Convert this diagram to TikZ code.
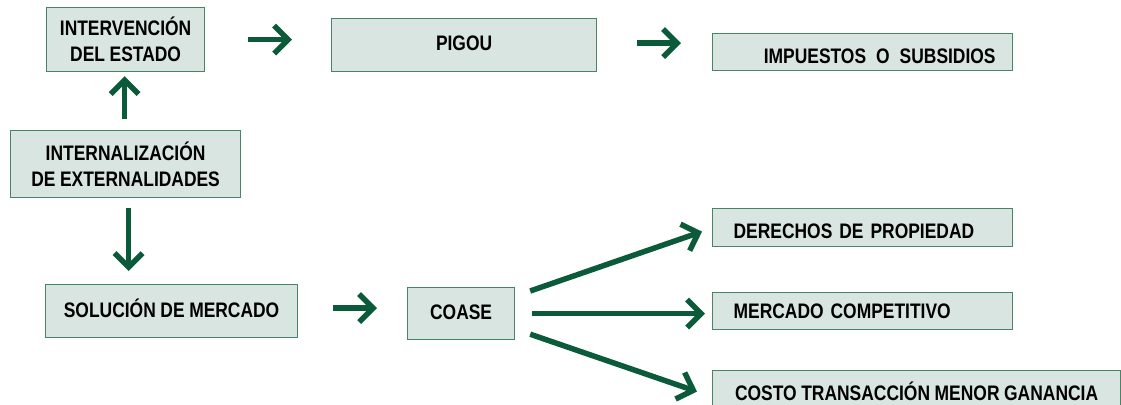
\documentclass[tikz,border=0pt]{standalone}
\usepackage{fontspec}
\setmainfont{Liberation Sans}[FakeStretch=0.83]
\usetikzlibrary{arrows.meta,calc}
\definecolor{arrgreen}{HTML}{0B5A3A}
\definecolor{boxfill}{HTML}{D9E5E0}
\definecolor{boxline}{HTML}{4A8466}
\newcommand\myboxfont{\fontsize{21}{26}\selectfont\bfseries\spaceskip=4.6pt\relax}
\tikzset{
  box/.style={draw=boxline, line width=1.2pt, fill=boxfill, anchor=north west,
    inner sep=0pt, font=\myboxfont, text=black},
  lbox/.style={box, align=left, inner xsep=21pt},
  lowtext/.style={text height=22pt, text depth=0pt},
  hightext/.style={text height=15pt, text depth=4pt},
  arr/.style={draw=arrgreen, line width=5.5pt,
    -{Straight Barb[length=14pt,width=28pt]}},
}
\begin{document}
\begin{tikzpicture}[x=1pt,y=-1pt]
\useasboundingbox (0,0) rectangle (1121,404);
% boxes
\node[box, minimum width=158pt, minimum height=64pt, align=center] (intv) at (46,7)
  {INTERVENCIÓN\\DEL ESTADO};
\node[box, minimum width=230pt, minimum height=67pt, align=center] (inte) at (10,130)
  {INTERNALIZACIÓN\\DE EXTERNALIDADES};
\node[box, hightext, minimum width=265pt, minimum height=53pt] (pig) at (331,18) {PIGOU};
\node[box, lowtext, align=right, inner xsep=17pt, text width=266pt, minimum height=37pt] (imp) at (712,33)
  {IMPUESTOS\hspace{3pt} O\hspace{3pt} SUBSIDIOS};
\node[box, text height=15pt, text depth=2pt, minimum width=252pt, minimum height=53pt] (sol) at (45,284)
  {SOLUCIÓN DE MERCADO\hspace{6pt}};
\node[box, hightext, minimum width=107pt, minimum height=52pt] (coa) at (407,287) {COASE};
\node[lbox, lowtext, text width=258pt, minimum height=38pt] (der) at (712,208) {DERECHOS DE PROPIEDAD};
\node[lbox, text width=258pt, minimum height=37pt] (mer) at (712,292) {MERCADO COMPETITIVO};
\node[box, text height=18pt, text depth=0pt, minimum width=408pt, minimum height=42pt] (cos) at (712,370) {COSTO TRANSACCIÓN MENOR GANANCIA};
% arrows
\draw[arr, shorten <=11pt, shorten >=4pt] ([xshift=-1pt]inte.north) -- ([xshift=-1pt]intv.south);
\draw[arr, shorten <=10pt, shorten >=13pt] ([xshift=3pt]inte.south) -- ([xshift=3pt]inte.south |- sol.north);
\draw[arr, shorten <=43pt, shorten >=39pt] (intv.east) -- (intv.east -| pig.west);
\draw[arr, shorten <=40pt, shorten >=31pt] ([yshift=2pt]pig.east) -- ([yshift=2pt]pig.east -| imp.west);
\draw[arr, shorten <=35pt, shorten >=30pt] ([yshift=3pt]sol.east) -- ([yshift=3pt]sol.east -| coa.west);
\draw[arr] ([xshift=15pt,yshift=-4pt]coa.north east) -- ([xshift=-10pt,yshift=-4pt]der.west);
\draw[arr] ([xshift=17pt]coa.east) -- ([xshift=-7pt]coa.east -| mer.west);
\draw[arr] ([xshift=15pt,yshift=6pt]coa.south east) -- ([xshift=-15pt]cos.west);
\end{tikzpicture}
\end{document}
